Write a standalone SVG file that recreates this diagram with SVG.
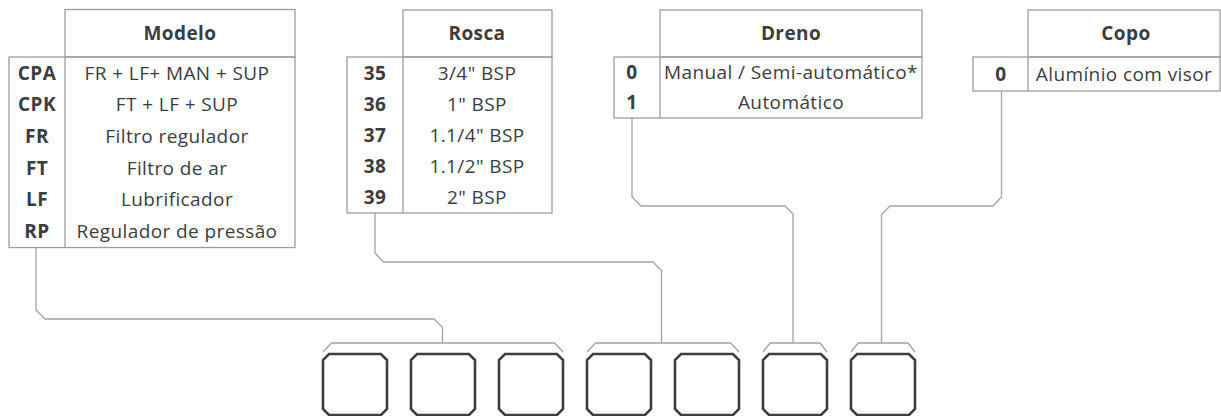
<svg xmlns="http://www.w3.org/2000/svg" width="1221" height="416" viewBox="0 0 1221 416">
<style>
.b{fill:none;stroke:#9d9d9d;stroke-width:1.3}
.c{fill:none;stroke:#a3a3a3;stroke-width:1.3}
.k{fill:none;stroke:#3b3e44;stroke-width:2.6}
text{font-family:"Open Sans","Noto Sans",sans-serif;font-size:19px;fill:#3a3d42;text-anchor:middle;letter-spacing:0.4px}
.h{font-weight:bold}
.d{font-weight:bold}
</style>
<rect width="1221" height="416" fill="#ffffff"/>
<g id="modelo">
<rect class="b" x="65" y="9.5" width="230" height="47.5"/>
<rect class="b" x="9" y="57" width="286" height="190.5"/>
<line class="b" x1="65" y1="57" x2="65" y2="247.5"/>
<text class="h" x="180" y="39.5">Modelo</text>
<text class="d" x="37" y="79.5">CPA</text><text x="177" y="79.5">FR + LF+ MAN + SUP</text>
<text class="d" x="37" y="111">CPK</text><text x="177" y="111">FT + LF + SUP</text>
<text class="d" x="37" y="142.5">FR</text><text x="177" y="142.5">Filtro regulador</text>
<text class="d" x="37" y="174.5">FT</text><text x="177" y="174.5">Filtro de ar</text>
<text class="d" x="37" y="206">LF</text><text x="177" y="206">Lubrificador</text>
<text class="d" x="37" y="237.5">RP</text><text x="177" y="237.5">Regulador de pressão</text>
</g>
<g id="rosca">
<rect class="b" x="403" y="10" width="149" height="47"/>
<rect class="b" x="347" y="57" width="205" height="156"/>
<line class="b" x1="403" y1="57" x2="403" y2="213"/>
<text class="h" x="477" y="39.5">Rosca</text>
<text class="d" x="375" y="79.5">35</text><text x="477" y="79.5">3/4" BSP</text>
<text class="d" x="375" y="110.5">36</text><text x="477" y="110.5">1" BSP</text>
<text class="d" x="375" y="141.5">37</text><text x="477" y="141.5">1.1/4" BSP</text>
<text class="d" x="375" y="172.5">38</text><text x="477" y="172.5">1.1/2" BSP</text>
<text class="d" x="375" y="204">39</text><text x="477" y="204">2" BSP</text>
</g>
<g id="dreno">
<rect class="b" x="660" y="10" width="262" height="47"/>
<rect class="b" x="614" y="57" width="308" height="61"/>
<line class="b" x1="660" y1="57" x2="660" y2="118"/>
<text class="h" x="791" y="39.5">Dreno</text>
<text class="d" x="632" y="78.5">0</text><text x="791" y="78.5">Manual / Semi-automático*</text>
<text class="d" x="632" y="109">1</text><text x="791" y="109">Automático</text>
</g>
<g id="copo">
<rect class="b" x="1028" y="10" width="192" height="47"/>
<rect class="b" x="973" y="57" width="247" height="34"/>
<line class="b" x1="1028" y1="57" x2="1028" y2="91"/>
<text class="h" x="1126" y="39.5">Copo</text>
<text class="d" x="1001" y="80.5">0</text><text x="1124" y="80.5">Alumínio com visor</text>
</g>
<g id="boxes">
<path id="box1" class="k" d="M329,354H381L387,360V409L381,415H329L323,409V360Z"/>
<path id="box2" class="k" d="M417,354H469L475,360V409L469,415H417L411,409V360Z"/>
<path id="box3" class="k" d="M505,354H557L563,360V409L557,415H505L499,409V360Z"/>
<path id="box4" class="k" d="M593,354H645L651,360V409L645,415H593L587,409V360Z"/>
<path id="box5" class="k" d="M681,354H733L739,360V409L733,415H681L675,409V360Z"/>
<path id="box6" class="k" d="M769,354H821L827,360V409L821,415H769L763,409V360Z"/>
<path id="box7" class="k" d="M857,354H909L915,360V409L909,415H857L851,409V360Z"/>
</g>
<g id="connectors">
<path class="c" d="M323,352L331.5,343H554.5L563,352"/>
<path class="c" d="M587,352L595.5,343H730.5L739,352"/>
<path class="c" d="M763,352L770,343H820L827,352"/>
<path class="c" d="M851,352L858,343H908L915,352"/>
<path class="c" d="M36,247.5V310L45,319H434L442.5,327.5V343"/>
<path class="c" d="M375,213V253L383.5,262H653L661.5,270.5V343"/>
<path class="c" d="M632,118V197L641,206H785L793,214V343"/>
<path class="c" d="M1001.5,91V197L993,206H890L881.5,214.5V343"/>
</g>
</svg>
